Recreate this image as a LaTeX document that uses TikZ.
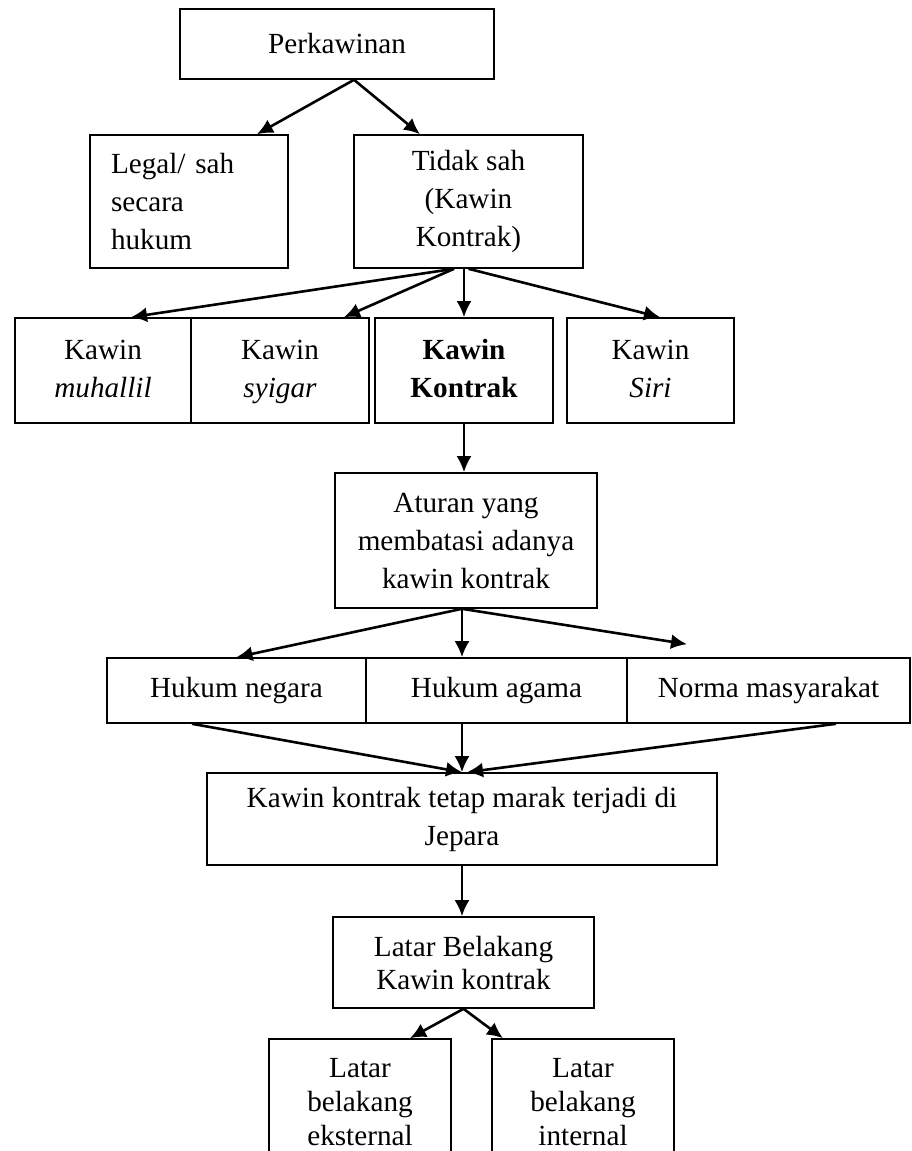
\documentclass[tikz,border=0pt]{standalone}
\usepackage{fontspec}
\setmainfont{Liberation Serif}
\usetikzlibrary{arrows.meta}

\begin{document}
\begin{tikzpicture}[x=0.5pt,y=-0.5pt,
    kotak/.style={draw,line width=0.8pt,inner sep=0pt,align=center,font=\fontsize{14.6}{19}\selectfont},
    panah/.style={-{Latex[length=8pt,width=7.5pt]},line width=1.3pt}]
    \clip (0,0) rectangle (911,1151);
    % baris atas
    \node[kotak,minimum width=157pt,minimum height=35pt] (perk) at (337,44) {Perkawinan};
    \node[kotak,align=left,text width=78pt,inner xsep=10.5pt,minimum height=66.5pt] (legal) at (189,201.5)
      {Legal/ sah\\secara\\hukum};
    \node[kotak,minimum width=114.5pt,minimum height=66.5pt] (tidak) at (468.5,201.5)
      {Tidak sah\\(Kawin\\Kontrak)};
    % jenis kawin
    \node[kotak,minimum width=88pt,minimum height=52.5pt] (muhallil) at (103,370.5) {\strut Kawin\\\emph{muhallil}\strut};
    \node[kotak,minimum width=89pt,minimum height=52.5pt] (syigar) at (280,370.5) {\strut Kawin\\\emph{syigar}\strut};
    \node[kotak,minimum width=89pt,minimum height=52.5pt] (kontrak) at (464,370.5) {\strut\textbf{Kawin}\\\textbf{Kontrak}\strut};
    \node[kotak,minimum width=83.5pt,minimum height=52.5pt] (siri) at (650.5,370.5) {\strut Kawin\\\emph{Siri}\strut};
    \node[kotak,minimum width=131pt,minimum height=67.5pt] (aturan) at (466,540.5)
      {Aturan yang\\membatasi adanya\\kawin kontrak};
    % aturan
    \node[kotak,minimum width=129.5pt,minimum height=32.5pt] (negara) at (236.5,690.5) {Hukum negara};
    \node[kotak,minimum width=130.5pt,minimum height=32.5pt] (agama) at (496.5,690.5) {Hukum agama};
    \node[kotak,minimum width=141.5pt,minimum height=32.5pt] (norma) at (768.5,690.5) {Norma masyarakat};
    \node[kotak,minimum width=255pt,minimum height=46pt] (tetap) at (462,819)
      {Kawin kontrak tetap marak terjadi di\\Jepara};
    % latar belakang
    \node[kotak,minimum width=130.5pt,minimum height=45.5pt,font=\fontsize{14.6}{16.5}\selectfont] (latar) at (463.5,962.5)
      {Latar Belakang\\Kawin kontrak};
    \node[kotak,minimum width=91pt,minimum height=63pt,font=\fontsize{14.6}{17}\selectfont] (eks) at (360,1102)
      {Latar\\belakang\\eksternal};
    \node[kotak,minimum width=91pt,minimum height=63pt,font=\fontsize{14.6}{17}\selectfont] (int) at (583,1102)
      {Latar\\belakang\\internal};
    \coordinate (normatip) at ([xshift=-40.75pt,yshift=6.5pt]norma.north);
    % panah
    \draw[panah] ([xshift=8.5pt]perk.south) -- ([xshift=34pt]legal.north);
    \draw[panah] ([xshift=8.5pt]perk.south) -- ([xshift=-24.25pt]tidak.north);
    \draw[panah] ([xshift=-7.25pt]tidak.south) -- ([xshift=14pt]muhallil.north);
    \draw[panah] ([xshift=-7.25pt]tidak.south) -- ([xshift=32pt]syigar.north);
    \draw[panah] (tidak.south -| kontrak) -- (kontrak.north);
    \draw[panah] (tidak.south) -- ([xshift=4.75pt]siri.north);
    \draw[panah] (kontrak.south) -- (kontrak.south |- aturan.north);
    \draw[panah] ([xshift=-2pt]aturan.south) -- (negara.north);
    \draw[panah] ([xshift=-2pt]aturan.south) -- ([xshift=-17.25pt]agama.north);
    \draw[panah] ([xshift=-2pt]aturan.south) -- (normatip);
    \draw[panah] ([xshift=-22.25pt]negara.south) -- (tetap.north);
    \draw[panah] ([xshift=-17.25pt]agama.south) -- (tetap.north);
    \draw[panah] ([xshift=33.75pt]norma.south) -- ([xshift=2.5pt]tetap.north);
    \draw[panah] (tetap.south) -- (tetap.south |- latar.north);
    \draw[panah] (latar.south) -- ([xshift=25pt]eks.north);
    \draw[panah] (latar.south) -- ([xshift=-40pt]int.north);
\end{tikzpicture}
\end{document}
